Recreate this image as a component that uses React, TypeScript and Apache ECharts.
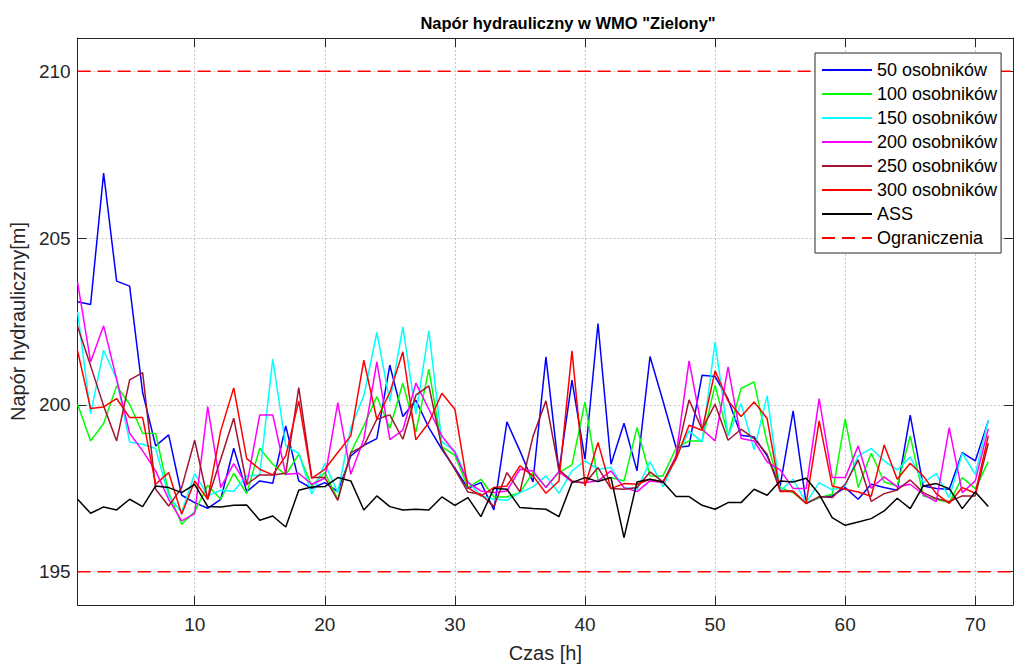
import React, { useEffect, useRef } from "react";
import * as echarts from "echarts";

// Time axis (hours)
const hours: number[] = [
  1, 2, 3, 4, 5, 6, 7, 8, 9, 10, 11, 12, 13, 14, 15, 16, 17, 18, 19, 20,
  21, 22, 23, 24, 25, 26, 27, 28, 29, 30, 31, 32, 33, 34, 35, 36, 37, 38, 39, 40,
  41, 42, 43, 44, 45, 46, 47, 48, 49, 50, 51, 52, 53, 54, 55, 56, 57, 58, 59, 60,
  61, 62, 63, 64, 65, 66, 67, 68, 69, 70, 71,
];

const os50: number[] = [
  203.09, 203.01, 206.95, 203.71, 203.56, 200.37, 198.77, 199.1, 197.29, 197.07,
  196.9, 197.17, 198.7, 197.4, 197.72, 197.65, 199.37, 197.72, 197.5, 197.67,
  197.4, 198.47, 198.79, 198.99, 201.19, 199.65, 200.14, 199.32, 198.67, 198.1,
  197.5, 197.67, 196.85, 199.49, 198.62, 197.69, 201.44, 198.0, 200.74, 198.37,
  202.44, 198.22, 199.45, 198.02, 201.45, 200.11, 198.72, 198.77, 200.89, 200.85,
  200.17, 199.09, 199.04, 198.47, 197.57, 199.82, 197.05, 197.22, 197.27, 197.52,
  197.17, 197.62, 197.52, 197.44, 199.69, 197.57, 197.49, 197.47, 198.57, 198.32,
  199.52,
];

const os100: number[] = [
  200.02, 198.92, 199.44, 200.57, 200.02, 199.15, 199.14, 197.37, 196.42, 196.8,
  197.59, 197.17, 197.95, 197.34, 198.7, 198.22, 197.9, 198.52, 197.57, 197.97,
  197.17, 198.57, 199.37, 200.25, 199.3, 200.65, 199.19, 201.07, 198.74, 198.49,
  197.52, 197.77, 197.24, 197.24, 197.37, 197.97, 197.54, 197.97, 198.2, 200.09,
  197.74, 197.82, 197.72, 199.32, 197.87, 197.87, 198.7, 198.92, 198.92, 200.59,
  199.07, 200.49, 200.69, 198.87, 197.52, 197.37, 197.05, 197.22, 197.32, 199.57,
  197.52, 198.55, 197.69, 197.57, 199.07, 197.27, 197.17, 197.07, 197.82, 197.49,
  198.3,
];

const os150: number[] = [
  202.79, 199.72, 201.64, 200.77, 198.89, 198.82, 198.69, 197.27, 196.77, 197.94,
  197.27, 197.44, 197.41, 197.87, 197.9, 201.37, 198.77, 198.55, 197.32, 198.24,
  197.37, 199.32, 200.27, 202.17, 200.1, 202.34, 199.72, 202.22, 198.89, 198.62,
  197.72, 197.27, 197.17, 197.14, 197.37, 197.54, 197.87, 197.35, 198.02, 198.32,
  198.07, 198.12, 197.52, 197.47, 198.3, 197.54, 198.42, 199.22, 198.89, 201.89,
  199.07, 200.04, 198.65, 200.27, 197.42, 197.77, 197.07, 197.67, 197.45, 197.57,
  198.47, 198.69, 198.32, 198.05, 198.44, 197.67, 197.94, 197.22, 198.55, 197.92,
  199.55,
];

const os200: number[] = [
  203.67, 201.29, 202.37, 200.77, 199.15, 198.62, 198.02, 197.17, 196.52, 196.74,
  199.95, 197.52, 198.24, 197.59, 199.7, 199.7, 197.92, 197.95, 197.62, 197.8,
  200.07, 197.92, 198.97, 201.29, 198.96, 199.24, 200.65, 199.87, 199.07, 198.57,
  197.67, 197.42, 197.37, 197.42, 198.07, 198.02, 197.52, 198.0, 197.69, 197.67,
  197.72, 198.02, 197.52, 197.4, 197.72, 197.67, 198.47, 201.32, 199.27, 198.92,
  201.14, 198.99, 198.92, 198.29, 198.05, 197.49, 197.49, 200.19, 197.82, 197.82,
  198.77, 197.5, 197.84, 197.54, 197.62, 197.32, 197.1, 199.32, 197.37, 197.72,
  199.29,
];

const os250: number[] = [
  202.35, 201.17, 199.97, 198.92, 200.75, 200.97, 197.47, 196.97, 197.52, 198.94,
  197.17, 198.37, 199.6, 197.62, 197.9, 197.9, 197.95, 200.52, 197.82, 197.82,
  197.14, 198.57, 198.77, 199.57, 199.7, 198.97, 200.29, 200.57, 198.72, 198.07,
  197.39, 197.32, 196.95, 197.97, 197.39, 199.05, 200.12, 198.05, 197.72, 197.65,
  198.12, 197.49, 197.47, 197.52, 197.99, 197.69, 198.42, 200.15, 199.27, 200.02,
  198.94, 199.27, 198.99, 198.52, 197.42, 197.42, 197.04, 197.25, 197.22, 197.62,
  198.35, 197.11, 197.34, 197.45, 197.75, 197.37, 197.19, 197.1, 197.27, 197.27,
  198.85,
];

const os300: number[] = [
  201.62, 199.89, 199.94, 200.19, 199.62, 199.62, 197.62, 197.97, 196.72, 197.72,
  197.17, 199.22, 200.51, 198.39, 198.07, 197.9, 198.47, 200.12, 197.8, 198.07,
  198.57, 199.07, 201.34, 199.57, 200.37, 201.59, 198.95, 199.47, 200.35, 199.87,
  197.52, 197.27, 197.52, 197.57, 198.17, 197.87, 197.35, 197.72, 201.62, 197.57,
  198.87, 197.49, 197.64, 197.62, 197.77, 197.69, 198.37, 199.39, 199.24, 201.02,
  200.12, 199.65, 200.09, 199.59, 197.4, 197.4, 197.05, 199.52, 197.57, 197.47,
  197.39, 197.26, 198.8, 197.77, 198.25, 197.87, 197.34, 197.05, 197.52, 197.35,
  199.07,
];

const ass: number[] = [
  197.17, 196.75, 196.94, 196.85, 197.17, 196.95, 197.57, 197.52, 197.37, 197.62,
  196.95, 196.94, 196.99, 197.0, 196.54, 196.67, 196.34, 197.44, 197.54, 197.55,
  197.82, 197.72, 196.85, 197.27, 196.95, 196.85, 196.87, 196.85, 197.24, 196.99,
  197.22, 196.65, 197.5, 197.47, 196.92, 196.89, 196.87, 196.65, 197.67, 197.82,
  197.7, 197.82, 196.02, 197.69, 197.77, 197.69, 197.25, 197.25, 196.99, 196.87,
  197.07, 197.07, 197.47, 197.29, 197.72, 197.69, 197.8, 197.32, 196.62, 196.39,
  196.49, 196.59, 196.82, 197.2, 196.89, 197.57, 197.64, 197.49, 196.89, 197.39,
  196.95,
];

const limits: number[] = [195, 210];

const xTicks: number[] = [10, 20, 30, 40, 50, 60, 70];
const yTicks: number[] = [195, 200, 205, 210];
const xRange: number[] = [1, 72.9];
const yRange: number[] = [194, 211];

const seriesNames: string[] = [
  "50 osobników",
  "100 osobników",
  "150 osobników",
  "200 osobników",
  "250 osobników",
  "300 osobników",
  "ASS",
];
const limitName = "Ograniczenia";

const FONT = "'Liberation Sans', Arial, Helvetica, sans-serif";
const AX = "#262626";

export default function App() {
  const ref = useRef<HTMLDivElement>(null);

  useEffect(() => {
    if (!ref.current) return;
    const chart = echarts.init(ref.current, undefined, { renderer: "svg" });

    const values = [os50, os100, os150, os200, os250, os300, ass];
    const colors = ["#0000ff", "#00ff00", "#00ffff", "#ff00ff", "#a2142f", "#ff0000", "#000000"];

    const dataSeries = values.map((arr, si) => ({
      name: seriesNames[si],
      type: "line",
      xAxisIndex: 0,
      yAxisIndex: 0,
      data: hours.map((h, i) => [h, arr[i]]),
      symbol: "none",
      showSymbol: false,
      lineStyle: { color: colors[si], width: 1.5 },
      itemStyle: { color: colors[si] },
      z: 3 + si,
    }));

    const limitSeries = limits.map((v) => ({
      name: limitName,
      type: "line",
      xAxisIndex: 0,
      yAxisIndex: 0,
      data: [
        [xRange[0], v],
        [xRange[1], v],
      ],
      symbol: "none",
      showSymbol: false,
      lineStyle: { color: "#ff0000", width: 1.5, type: [13, 7] },
      itemStyle: { color: "#ff0000" },
      z: 2,
    }));

    const axisLine = { show: true, onZero: false, lineStyle: { color: AX, width: 1 } };

    const option: any = {
      animation: false,
      backgroundColor: "#ffffff",
      textStyle: { fontFamily: FONT },
      grid: { left: 77, right: 1, top: 38, bottom: 64, containLabel: false },
      graphic: [
        {
          type: "text",
          x: 568,
          y: 23,
          style: {
            text: 'Napór hydrauliczny w WMO "Zielony"',
            fontFamily: FONT,
            fontSize: 16.5,
            fontWeight: "bold",
            fill: "#000000",
            textAlign: "center",
            textVerticalAlign: "middle",
          },
        },
      ],
      legend: {
        orient: "vertical",
        left: 815,
        top: 53,
        itemWidth: 50,
        itemHeight: 20,
        itemGap: 4,
        padding: [7, 4, 5, 6],
        borderColor: AX,
        borderWidth: 1,
        backgroundColor: "#ffffff",
        itemStyle: { opacity: 0 },
        textStyle: { fontSize: 18, fontFamily: FONT, color: "#000000", lineHeight: 20 },
        data: [...seriesNames, limitName],
      },
      xAxis: [
        {
          type: "value",
          position: "bottom",
          min: xRange[0],
          max: xRange[1],
          axisLine,
          axisTick: { show: true, inside: true, length: 9, customValues: xTicks, lineStyle: { color: AX } },
          axisLabel: { customValues: xTicks, fontSize: 19, color: AX, margin: 10, fontFamily: FONT },
          splitLine: { show: true, lineStyle: { color: "#c6c6c6", type: [2, 2], width: 1 } },
          name: "Czas [h]",
          nameLocation: "middle",
          nameGap: 38,
          nameTextStyle: { fontSize: 20, color: AX, fontFamily: FONT },
        },
        {
          type: "value",
          position: "top",
          min: xRange[0],
          max: xRange[1],
          axisLine,
          axisTick: { show: true, inside: true, length: 9, customValues: xTicks, lineStyle: { color: AX } },
          axisLabel: { show: false },
          splitLine: { show: false },
        },
      ],
      yAxis: [
        {
          type: "value",
          position: "left",
          min: yRange[0],
          max: yRange[1],
          axisLine,
          axisTick: { show: true, inside: true, length: 9, customValues: yTicks, lineStyle: { color: AX } },
          axisLabel: { customValues: yTicks, fontSize: 19, color: AX, margin: 7, fontFamily: FONT },
          splitLine: { show: true, lineStyle: { color: "#c6c6c6", type: [2, 2], width: 1 } },
          name: "Napór hydrauliczny[m]",
          nameLocation: "middle",
          nameGap: 47,
          nameTextStyle: { fontSize: 20, color: AX, fontFamily: FONT },
        },
        {
          type: "value",
          position: "right",
          min: yRange[0],
          max: yRange[1],
          axisLine,
          axisTick: { show: true, inside: true, length: 9, customValues: yTicks, lineStyle: { color: AX } },
          axisLabel: { show: false },
          splitLine: { show: false },
        },
      ],
      series: [...limitSeries, ...dataSeries],
    };

    chart.setOption(option);
    return () => {
      chart.dispose();
    };
  }, []);

  return (
    <div
      ref={ref}
      style={{ position: "absolute", left: 0, top: 0, width: 1014, height: 669 }}
    />
  );
}
